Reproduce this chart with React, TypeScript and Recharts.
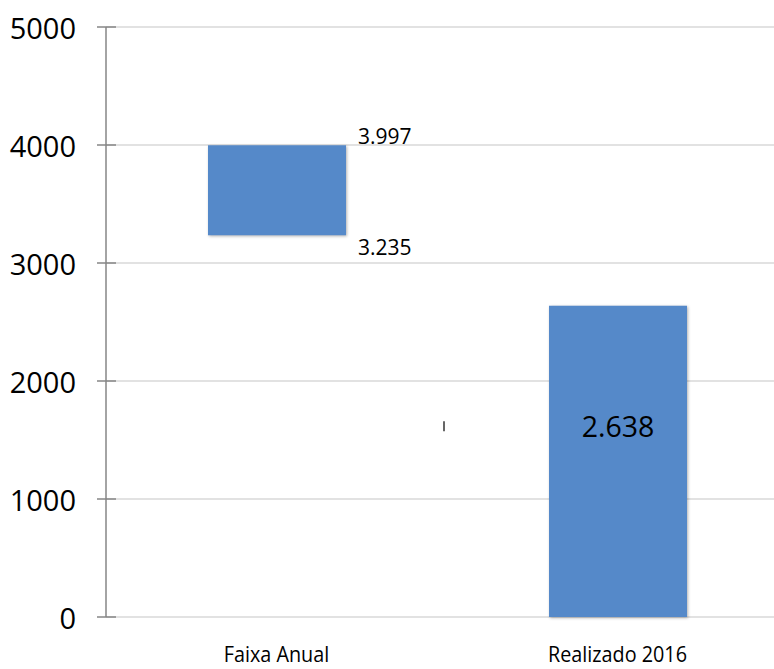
import { BarChart, Bar, XAxis, YAxis, CartesianGrid } from "recharts";

const categories = ["Faixa Anual", "Realizado 2016"];
const lowValues = [3235, 0];
const highValues = [3997, 2638];
const yTicks = [0, 1000, 2000, 3000, 4000, 5000];

const BAR_COLOR = "#5589C9";
const AXIS_COLOR = "#868686";
const GRID_COLOR = "#D9D9D9";
const FONT = "'Open Sans', 'Noto Sans', sans-serif";

const data = categories.map((name, i) => ({
  name,
  range: [lowValues[i], highValues[i]],
}));

function fmt(v: number): string {
  return String(v).replace(/\B(?=(\d{3})+(?!\d))/g, ".");
}

function YTick(props: any) {
  const { y, payload } = props;
  return (
    <g>
      <line x1={97} x2={116} y1={y} y2={y} stroke={AXIS_COLOR} strokeWidth={1.5} />
      <text
        x={76}
        y={y}
        textAnchor="end"
        dominantBaseline="central"
        fontSize={29}
        fontFamily={FONT}
        fill="#000"
      >
        {payload.value}
      </text>
    </g>
  );
}

function XTick(props: any) {
  const { x, payload } = props;
  // the original text is drawn a little narrow
  return (
    <text
      transform={`translate(${x},662) scale(0.9,1)`}
      textAnchor="middle"
      fontSize={22}
      fontFamily={FONT}
      fill="#000"
    >
      {payload.value}
    </text>
  );
}

function BarLabel(props: any) {
  const { x, y, width, height, index } = props;
  if (index === 0) {
    const tx = x + width + 12;
    return (
      <g fontFamily={FONT} fontSize={21} fill="#000">
        <text x={tx} y={y - 9} dominantBaseline="central">
          {fmt(highValues[0])}
        </text>
        <text x={tx} y={y + height + 12} dominantBaseline="central">
          {fmt(lowValues[0])}
        </text>
      </g>
    );
  }
  const cy = y + height / 2 - 35;
  return (
    <g>
      <line x1={x - 105} x2={x - 105} y1={cy - 5} y2={cy + 5} stroke="#333" strokeWidth={1.5} />
      <text
        x={x + width / 2}
        y={cy}
        textAnchor="middle"
        dominantBaseline="central"
        fontFamily={FONT}
        fontSize={28.5}
        fill="#000"
      >
        {fmt(highValues[index])}
      </text>
    </g>
  );
}

export default function App() {
  return (
    <div
      style={{
        position: "absolute",
        left: 0,
        top: 0,
        width: 774,
        height: 669,
        overflow: "hidden",
        background: "#fff",
      }}
    >
      <BarChart
        width={790}
        height={669}
        data={data}
        margin={{ top: 27, right: 2, bottom: 0, left: 0 }}
      >
        <CartesianGrid vertical={false} stroke={GRID_COLOR} strokeWidth={1.5} />
        <XAxis
          dataKey="name"
          axisLine={false}
          tickLine={false}
          height={52}
          tick={<XTick />}
          interval={0}
        />
        <YAxis
          width={106}
          domain={[0, 5000]}
          ticks={yTicks}
          axisLine={{ stroke: AXIS_COLOR, strokeWidth: 1.5 }}
          tickLine={false}
          tick={<YTick />}
        />
        <Bar
          dataKey="range"
          fill={BAR_COLOR}
          barSize={138}
          isAnimationActive={false}
          label={<BarLabel />}
          style={{ filter: "drop-shadow(1px 1px 1.5px rgba(0,0,0,0.3))" }}
        />
      </BarChart>
    </div>
  );
}
